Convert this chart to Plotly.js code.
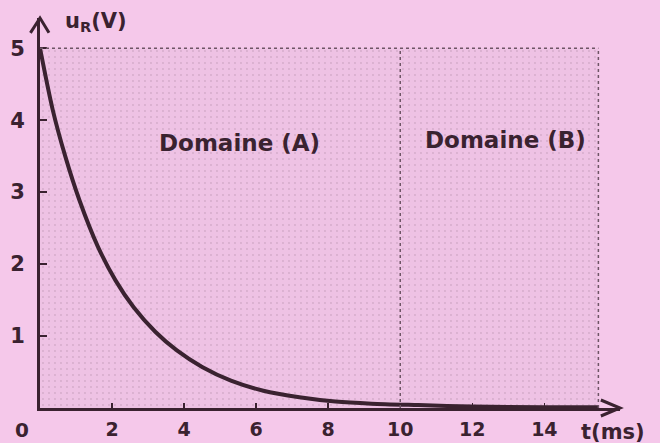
<!DOCTYPE html>
<html>
<head>
<meta charset="utf-8">
<script src="https://cdn.plot.ly/plotly-3.0.1.min.js"></script>
<style>html,body{margin:0;padding:0;background:#f5c8ea;}#chart{width:660px;height:443px;}</style>
</head>
<body>
<div id="chart"></div>
<script>
// Data
const tValues = [0, 0.35, 0.7, 1.1, 1.6, 2.1, 2.6, 3.2, 3.8, 4.5, 5.3, 6.2, 7.2, 8.2, 9.2, 10.5, 12, 14, 15.5];
const uValues = [5, 4.15, 3.5, 2.88, 2.25, 1.77, 1.40, 1.06, 0.80, 0.57, 0.38, 0.24, 0.15, 0.09, 0.06, 0.04, 0.02, 0.01, 0.01];
const xTicks = [2, 4, 6, 8, 10, 12, 14];
const yTicks = [1, 2, 3, 4, 5];
const domainBounds = [0, 10, 15.5];   // t limits of Domaine (A) / (B)
const uMax = 5;
const domainLabels = ["Domaine (A)", "Domaine (B)"];

const ink = '#3a2230';
const tEnd = domainBounds[domainBounds.length - 1];

const region = {
  x: [domainBounds[0], tEnd, tEnd, domainBounds[0], domainBounds[0]],
  y: [0, 0, uMax, uMax, 0],
  type: 'scatter', mode: 'none', fill: 'toself',
  fillcolor: 'rgb(238,194,228)',
  fillpattern: {shape: '.', fgcolor: 'rgba(120,90,110,0.22)', bgcolor: 'rgb(238,194,228)', size: 6, solidity: 0.08},
  hoverinfo: 'skip', showlegend: false
};
const curve = {
  x: tValues, y: uValues, type: 'scatter', mode: 'lines',
  line: {color: ink, width: 4, shape: 'spline', smoothing: 0.8},
  showlegend: false
};

const shapes = [
  {type: 'line', xref: 'x', yref: 'y', x0: domainBounds[0], x1: tEnd, y0: uMax, y1: uMax, line: {color: '#6e5565', width: 1.5, dash: 'dot'}},
  {type: 'line', xref: 'x', yref: 'y', x0: tEnd, x1: tEnd, y0: 0, y1: uMax, line: {color: '#6e5565', width: 1.5, dash: 'dot'}},
  {type: 'line', xref: 'x', yref: 'y', x0: domainBounds[1], x1: domainBounds[1], y0: 0, y1: uMax, line: {color: '#6e5565', width: 1.5, dash: 'dot'}},
  // axis arrowheads
  {type: 'path', xref: 'paper', yref: 'paper', path: 'M 0.967 0.0205 L 1 0 L 0.967 -0.0205', line: {color: ink, width: 3}},
  {type: 'path', xref: 'paper', yref: 'paper', path: 'M -0.0165 0.962 L 0 1 L 0.0155 0.962', line: {color: ink, width: 3}}
];

const fnt = (s) => ({family: 'DejaVu Sans', size: s, color: ink});
const annotations = [
  {text: '<b>' + domainLabels[0] + '</b>', x: 5.53, y: 3.68, xref: 'x', yref: 'y', xanchor: 'center', yanchor: 'middle', showarrow: false, font: fnt(23)},
  {text: '<b>' + domainLabels[1] + '</b>', x: 12.92, y: 3.72, xref: 'x', yref: 'y', xanchor: 'center', yanchor: 'middle', showarrow: false, font: fnt(23)},
  {text: '<b>u<sub>R</sub>(V)</b>', x: 0.0966, y: 0.99, xref: 'paper', yref: 'paper', xanchor: 'center', yanchor: 'middle', showarrow: false, font: fnt(21)},
  {text: '<b>t(ms)</b>', x: 0.988, y: -0.0615, xref: 'paper', yref: 'paper', xanchor: 'center', yanchor: 'middle', showarrow: false, font: fnt(21)},
  {text: '<b>0</b>', x: -0.031, y: -0.056, xref: 'paper', yref: 'paper', xanchor: 'center', yanchor: 'middle', showarrow: false, font: fnt(20)}
];

const layout = {
  width: 660, height: 443,
  margin: {l: 40, r: 40, t: 18, b: 35},
  paper_bgcolor: '#f5c8ea', plot_bgcolor: 'rgba(0,0,0,0)',
  showlegend: false,
  xaxis: {range: [0, 16.1], tickvals: xTicks, ticktext: xTicks.map(v => '<b>' + v + '</b>'),
    showgrid: false, zeroline: false, showline: true, linecolor: ink, linewidth: 3,
    ticks: 'inside', ticklen: 5, tickwidth: 1.5, tickcolor: ink,
    tickfont: fnt(19), ticklabelstandoff: 2, fixedrange: true},
  yaxis: {range: [0, 5.42], tickvals: yTicks, ticktext: yTicks.map(v => '<b>' + v + '</b>'),
    showgrid: false, zeroline: false, showline: true, linecolor: ink, linewidth: 3,
    ticks: 'inside', ticklen: 7, tickwidth: 1.5, tickcolor: ink,
    tickfont: fnt(21), ticklabelstandoff: 8, fixedrange: true},
  shapes: shapes, annotations: annotations
};

Plotly.newPlot('chart', [region, curve], layout, {displayModeBar: false, staticPlot: true});
</script>
</body>
</html>
